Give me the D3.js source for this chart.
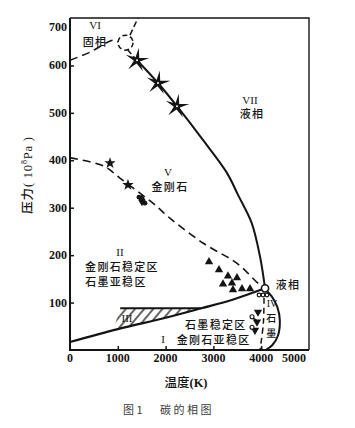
<!DOCTYPE html>
<html><head><meta charset="utf-8">
<script src="https://cdn.jsdelivr.net/npm/d3@7"></script>
<style>
body{margin:0;background:#fff;}
svg{display:block;}
</style></head><body>
<svg id="c" width="355" height="428"></svg>
<script>
// ---------- data (T in K, P in 10^8 Pa) ----------
const xTicks=[0,1000,2000,3000,4000,5000];
const yTicks=[100,200,300,400,500,600,700];
const meltDiamond=[[1402,611],[1841,563],[2238,514],[2780,443],[3280,374],[3520,326],[3800,268],[3975,197],[4060,145],[4080,130]];
const graphiteDiamond=[[0,17],[1000,44],[2000,68],[2750,88],[3400,106],[4080,130]];
const metastableDiamond=[[0,405],[700,388],[1050,362],[1740,309],[2090,278],[2790,225],[3490,183],[3975,137],[4080,130]];
const upperDashed=[[0,611],[418,628],[900,653],[1004,649]];
const loopCenter=[[1161,648]];
const loopTop=[[1255,664],[1423,700]];
const loopBottom=[[1213,632],[1402,611]];
const graphiteIVSolid=[[4100,126],[4220,113],[4340,90],[4390,62],[4350,30],[4230,10],[4090,0]];
const graphiteIVDashed=[[4059,110],[4045,56],[3975,0]];
const hatchTop=[[1050,88],[2750,88]];
const hatchLeftBottom=[900];
const bigStars=[[1402,611],[1841,563],[2238,514]];
const smallStars=[[837,394],[1213,348]];
const knot=[[1506,316]];
const triUp=[[2908,186],[3117,169],[3305,156],[3494,152],[3201,139],[3389,141],[3410,127],[3598,129],[3766,129]];
const triDown=[[3933,80],[3912,59],[3870,42]];
const tailCircles=[[3808,70],[3808,48]];
const smallCircles=[[3954,116],[4038,116],[4121,116]];
const triplePoint=[[4080,130]];
const regionLabels=[
  {t:"VI",T:523,P:685,roman:true},
  {t:"固相",T:523,P:651},
  {t:"VII",T:3766,P:527,roman:true},
  {t:"液相",T:3808,P:500},
  {t:"V",T:2050,P:375,roman:true},
  {t:"金刚石",T:2092,P:346},
  {t:"II",T:1046,P:207,roman:true},
  {t:"金刚石稳定区",T:1088,P:177},
  {t:"石墨亚稳区",T:962,P:146},
  {t:"III",T:1192,P:67,roman:true},
  {t:"石墨稳定区",T:3050,P:54},
  {t:"I",T:1946,P:23,roman:true},
  {t:"金刚石亚稳区",T:3005,P:23},
  {t:"液相",T:4561,P:139},
  {t:"IV",T:4226,P:99,roman:true,small:true},
  {t:"石",T:4226,P:69,small:true},
  {t:"墨",T:4226,P:36,small:true}
];

// ---------- layout ----------
const svg=d3.select("#c");
const x=d3.scaleLinear([0,5000],[70,309]);
const y=d3.scaleLinear([0,700],[350,18]);
const ink="#141414";
const serif="'Liberation Serif','DejaVu Serif',serif";
const cjk="'Noto Sans CJK SC','Noto Sans CJK JP',sans-serif";

// hatch pattern
const defs=svg.append("defs");
defs.append("pattern").attr("id","hatch").attr("patternUnits","userSpaceOnUse")
  .attr("width",7).attr("height",7).attr("patternTransform","rotate(40)")
  .append("line").attr("x1",1).attr("y1",0).attr("x2",1).attr("y2",7)
  .attr("stroke",ink).attr("stroke-width",1.3);

function interp(arr,T){for(let i=0;i<arr.length-1;i++){const a=arr[i],b=arr[i+1];if(T>=a[0]&&T<=b[0]){return a[1]+(b[1]-a[1])*(T-a[0])/(b[0]-a[0]);}}return arr[arr.length-1][1];}
const poly=[hatchTop[0],hatchTop[1]];
graphiteDiamond.slice().reverse().forEach(p=>{if(p[0]<hatchTop[1][0]&&p[0]>hatchLeftBottom[0])poly.push(p);});
poly.push([hatchLeftBottom[0],interp(graphiteDiamond,hatchLeftBottom[0])]);
svg.append("path").attr("d","M"+poly.map(p=>[x(p[0]),y(p[1])]).join("L")+"Z")
  .attr("fill","url(#hatch)");

const lineGen=d3.line().x(d=>x(d[0])).y(d=>y(d[1]));
const smooth=d3.line().x(d=>x(d[0])).y(d=>y(d[1])).curve(d3.curveCatmullRom.alpha(0.5));

// frame
svg.append("path").attr("d",`M${x(0)},${y(700)}H${x(5000)}V${y(0)}`)
  .attr("fill","none").attr("stroke",ink).attr("stroke-width",1.4);
svg.append("path").attr("d",`M${x(0)},${y(700)}V${y(0)}H${x(5000)}`)
  .attr("fill","none").attr("stroke",ink).attr("stroke-width",2);

// axes ticks (inward)
const xa=svg.append("g").attr("transform",`translate(0,${y(0)})`)
  .call(d3.axisBottom(x).tickValues(xTicks.filter(v=>v>0&&v<5000)).tickSize(-4).tickFormat(""));
xa.select(".domain").remove();
xa.selectAll("line").attr("stroke",ink).attr("stroke-width",1.5);
const ya=svg.append("g").attr("transform",`translate(${x(0)},0)`)
  .call(d3.axisLeft(y).tickValues(yTicks.filter(v=>v<700)).tickSize(-4).tickFormat(""));
ya.select(".domain").remove();
ya.selectAll("line").attr("stroke",ink).attr("stroke-width",1.5);

// tick labels
svg.append("g").selectAll("text").data(xTicks).join("text")
  .attr("x",d=>d===5000?x(d)-3:x(d)).attr("y",y(0)+12)
  .attr("text-anchor",d=>d===5000?"end":"middle")
  .attr("font-family",serif).attr("font-size",12).attr("font-weight","bold").attr("fill",ink)
  .text(d=>d);
svg.append("g").selectAll("text").data(yTicks).join("text")
  .attr("x",x(0)-3).attr("y",d=>(d===700?y(d)+9:y(d))+4)
  .attr("text-anchor","end")
  .attr("font-family",serif).attr("font-size",12).attr("font-weight","bold").attr("fill",ink)
  .text(d=>d);

// axis titles
const xt=svg.append("text").attr("x",186).attr("y",387).attr("text-anchor","middle")
  .attr("font-size",12.5).attr("fill",ink);
xt.append("tspan").attr("font-family",cjk).attr("font-weight",500).text("温度");
xt.append("tspan").attr("font-family",serif).attr("font-weight","bold").text("(K)");
const yt=svg.append("text").attr("transform","translate(32,175) rotate(-90)").attr("text-anchor","middle")
  .attr("font-size",12.5).attr("fill",ink).attr("letter-spacing",0.8);
yt.append("tspan").attr("font-family",cjk).attr("font-weight",500).text("压力");
yt.append("tspan").attr("font-family",serif).text("( 10");
yt.append("tspan").attr("font-family",serif).attr("font-size",8).attr("dy",-5).text("8");
yt.append("tspan").attr("font-family",serif).attr("dy",5).text("Pa )");

// caption
const cap=svg.append("text").attr("y",414).attr("font-family",cjk).attr("font-size",11).attr("fill","#3a3a3a");
cap.append("tspan").attr("x",123).text("图 1");
cap.append("tspan").attr("x",160).attr("letter-spacing",2.5).text("碳的相图");

// curves
svg.append("path").attr("d",smooth(graphiteDiamond)).attr("fill","none").attr("stroke",ink).attr("stroke-width",2.2);
svg.append("path").attr("d",lineGen(hatchTop)).attr("fill","none").attr("stroke",ink).attr("stroke-width",2);
svg.append("path").attr("d",smooth(meltDiamond)).attr("fill","none").attr("stroke",ink).attr("stroke-width",2);
svg.append("path").attr("d",smooth(metastableDiamond)).attr("fill","none").attr("stroke",ink).attr("stroke-width",1.6).attr("stroke-dasharray","8,5");
svg.append("path").attr("d",smooth(upperDashed)).attr("fill","none").attr("stroke",ink).attr("stroke-width",1.5).attr("stroke-dasharray","8,5");
svg.append("path").attr("d",lineGen(loopTop)).attr("fill","none").attr("stroke",ink).attr("stroke-width",1.5).attr("stroke-dasharray","6,3");
svg.append("path").attr("d",lineGen(loopBottom)).attr("fill","none").attr("stroke",ink).attr("stroke-width",1.5).attr("stroke-dasharray","5,3");
svg.selectAll(".loop").data(loopCenter).join("circle").attr("class","loop")
  .attr("cx",d=>x(d[0])).attr("cy",d=>y(d[1])).attr("r",7.5)
  .attr("fill","none").attr("stroke",ink).attr("stroke-width",1.5).attr("stroke-dasharray","5,3");
svg.append("path").attr("d",smooth(graphiteIVSolid)).attr("fill","none").attr("stroke",ink).attr("stroke-width",2);
svg.append("path").attr("d",smooth(graphiteIVDashed)).attr("fill","none").attr("stroke",ink).attr("stroke-width",1.5).attr("stroke-dasharray","6,4");

// markers
function starPath(R,r,n){const pts=[];for(let i=0;i<2*n;i++){const a=Math.PI*i/n-Math.PI/2;const rad=i%2?r:R;pts.push([Math.cos(a)*rad,Math.sin(a)*rad]);}return "M"+pts.join("L")+"Z";}
svg.selectAll(".bs").data(bigStars).join("path").attr("class","bs")
  .attr("transform",d=>`translate(${x(d[0])},${y(d[1])}) rotate(8)`)
  .attr("d",starPath(12.5,3.2,5)).attr("fill",ink);
svg.selectAll(".bsc").data(bigStars).join("circle").attr("class","bsc")
  .attr("cx",d=>x(d[0])).attr("cy",d=>y(d[1])).attr("r",1).attr("fill","#fff");
svg.selectAll(".ss").data(smallStars).join("path").attr("class","ss")
  .attr("transform",d=>`translate(${x(d[0])},${y(d[1])})`)
  .attr("d",starPath(6,2.4,5)).attr("fill",ink);
const kn=svg.selectAll(".kn").data(knot).join("g").attr("class","kn")
  .attr("transform",d=>`translate(${x(d[0])},${y(d[1])})`);
kn.append("path").attr("d",d3.symbol(d3.symbolDiamond,45)()).attr("fill",ink);
kn.append("circle").attr("cx",-3).attr("cy",-3).attr("r",2.4).attr("fill",ink);
kn.append("circle").attr("cx",3).attr("cy",3).attr("r",2.4).attr("fill",ink);
svg.selectAll(".tu").data(triUp).join("path").attr("class","tu")
  .attr("transform",d=>`translate(${x(d[0])},${y(d[1])})`)
  .attr("d",d3.symbol(d3.symbolTriangle,30)()).attr("fill",ink);
svg.selectAll(".td").data(triDown).join("path").attr("class","td")
  .attr("transform",d=>`translate(${x(d[0])},${y(d[1])}) rotate(180)`)
  .attr("d",d3.symbol(d3.symbolTriangle,30)()).attr("fill",ink);
const tc=svg.selectAll(".tc").data(tailCircles).join("g").attr("class","tc")
  .attr("transform",d=>`translate(${x(d[0])},${y(d[1])})`);
tc.append("line").attr("x1",1.5).attr("y1",1.5).attr("x2",4.5).attr("y2",3.5).attr("stroke",ink).attr("stroke-width",1.5);
tc.append("circle").attr("r",2).attr("fill","#fff").attr("stroke",ink).attr("stroke-width",1.1);
svg.selectAll(".sc").data(smallCircles).join("circle").attr("class","sc")
  .attr("cx",d=>x(d[0])).attr("cy",d=>y(d[1])).attr("r",1.8)
  .attr("fill","#fff").attr("stroke",ink).attr("stroke-width",1.2);
svg.selectAll(".tp").data(triplePoint).join("circle").attr("class","tp")
  .attr("cx",d=>x(d[0])).attr("cy",d=>y(d[1])).attr("r",3.6)
  .attr("fill","#fff").attr("stroke",ink).attr("stroke-width",1.6);

// region labels
svg.append("g").selectAll("text").data(regionLabels).join("text")
  .attr("x",d=>x(d.T)).attr("y",d=>y(d.P))
  .attr("text-anchor","middle").attr("dominant-baseline","central")
  .attr("font-family",d=>d.roman?serif:cjk)
  .attr("font-size",d=>d.small?10:11)
  .attr("font-weight",d=>d.roman?"normal":500)
  .attr("letter-spacing",d=>d.roman?0:1.3)
  .attr("fill",ink)
  .text(d=>d.t);
</script>
</body></html>
